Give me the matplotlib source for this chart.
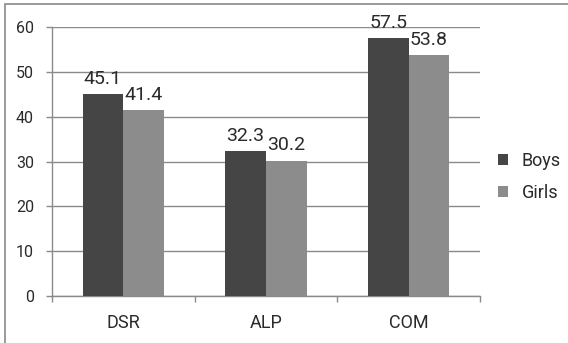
import numpy as np
import matplotlib.pyplot as plt
from matplotlib.patches import Rectangle

categories = ['DSR', 'ALP', 'COM']
boys = [45.1, 32.3, 57.5]
girls = [41.4, 30.2, 53.8]
series_names = ['Boys', 'Girls']

plt.rcParams['font.family'] = ['Roboto', 'DejaVu Sans']

W, H = 568, 343
fig = plt.figure(figsize=(W / 100, H / 100), dpi=100)

# outer frame (only top and left edges show)
fig.patches.append(Rectangle((5 / W, -0.1), 1.2, (343 - 4) / H + 0.1,
                             transform=fig.transFigure, fill=False,
                             edgecolor='#8a8a8a', linewidth=1.2))

ax = fig.add_axes([52 / W, (H - 296) / H, (480 - 52) / W, (296 - 27) / H])

x = np.arange(len(categories))
bw = 0.2857
colors = ['#454545', '#8c8c8c']
txt = '#2a2a2a'
b1 = ax.bar(x - bw / 2, boys, bw, color=colors[0], label=series_names[0], zorder=3)
b2 = ax.bar(x + bw / 2, girls, bw, color=colors[1], label=series_names[1], zorder=3)

for bars in (b1, b2):
    for bar in bars:
        h = bar.get_height()
        ax.annotate(f'{h:.1f}', xy=(bar.get_x() + bar.get_width() / 2, h),
                    xytext=(0, 4.5), textcoords='offset points',
                    ha='center', va='bottom', fontsize=14, color=txt)

ax.set_xlim(-0.5, 2.5)
ax.set_ylim(0, 60)
ax.set_yticks(range(0, 61, 10))
ax.yaxis.grid(True, color='#8a8a8a', linewidth=1.0, zorder=0)
ax.set_axisbelow(True)

# category labels centred, tick marks on the boundaries
ax.set_xticks(x)
ax.set_xticklabels(categories, fontsize=13, color=txt)
ax.tick_params(axis='x', length=0, pad=13)
ax.set_xticks(np.arange(-0.5, 2.6, 1), minor=True)
ax.tick_params(axis='x', which='minor', length=4, color='#8a8a8a', width=1)
ax.tick_params(axis='y', length=4, color='#8a8a8a', width=1,
               labelsize=11.5, labelcolor=txt, pad=9)

for s in ('top', 'right'):
    ax.spines[s].set_visible(False)
for s in ('left', 'bottom'):
    ax.spines[s].set_color('#8a8a8a')
    ax.spines[s].set_linewidth(1.0)

leg = fig.legend(handles=[b1, b2], labels=series_names, loc='center left',
                 bbox_to_anchor=(482 / W, (H - 177) / H), frameon=False,
                 fontsize=13, handlelength=0.55, handleheight=0.55,
                 handletextpad=0.75, labelspacing=0.75)
for t in leg.get_texts():
    t.set_color(txt)

fig.savefig('out.png', dpi=100)
